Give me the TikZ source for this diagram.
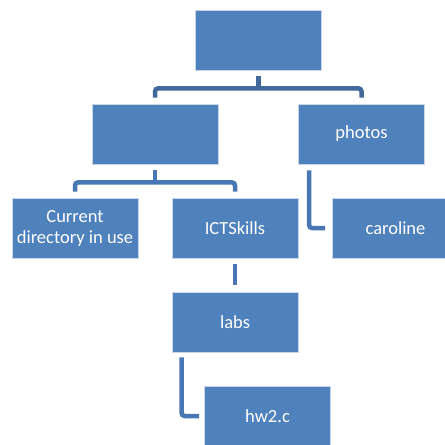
\documentclass[tikz,border=0pt]{standalone}
\usepackage{fontspec}
\setmainfont{Carlito}
\usetikzlibrary{calc}
\definecolor{boxblue}{HTML}{4F81BD}
\definecolor{boxedge}{HTML}{C9D6EA}
\definecolor{linkdark}{HTML}{41699C}
\definecolor{linkblue}{HTML}{4877B3}
\begin{document}
\begin{tikzpicture}[x=1pt,y=-1pt,
  folder/.style={draw=boxedge,line width=0.8pt,fill=boxblue,minimum width=126pt,minimum height=60pt,
    inner sep=0pt,text=white,align=center,font=\fontsize{18.5}{21}\selectfont},
  conn/.style={draw=linkblue,line width=4.5pt,rounded corners=3pt},
  conntop/.style={conn,draw=linkdark}]
\useasboundingbox (0,0) rectangle (445,445);
\clip (0,0) rectangle (445,445);
\fill[white] (0,0) rectangle (445,445);
% folder boxes
\node[folder] (top) at (258.5,40) {};
\node[folder] (L)   at (155,134) {};
\node[folder] (P)   at (361.5,134) {photos};
\node[folder] (C)   at (75,228) {Current\\directory in use};
\node[folder] (I)   at (235,228) {ICTSkills};
\node[folder] (Ca)  at (395.5,228) {caroline};
\node[folder] (lab) at (235,322) {labs};
\node[folder] (hw)  at (267.5,416) {hw2.c};
% tree connectors (yshift is measured upwards on the page)
\draw[conntop] ([yshift=-6pt]top.south) -- ([yshift=-19pt]top.south);
\draw[conntop] ([yshift=6pt]L.north) |- ([yshift=-18pt]top.south) -| ([yshift=6pt]P.north);
\draw[conn] ([yshift=-6pt]L.south) -- ([yshift=-19pt]L.south);
\draw[conn] ([yshift=6pt]C.north) |- ([yshift=-18pt]L.south) -| ([yshift=6pt]I.north);
\draw[conn] ([xshift=11pt,yshift=-6pt]P.south west) |- ([xshift=-7pt]Ca.west);
\draw[conn] ([yshift=-6pt]I.south) -- ([yshift=7pt]lab.north);
\draw[conn] ([xshift=10pt,yshift=-5pt]lab.south west) |- ([xshift=-5pt]hw.west);
\end{tikzpicture}
\end{document}
